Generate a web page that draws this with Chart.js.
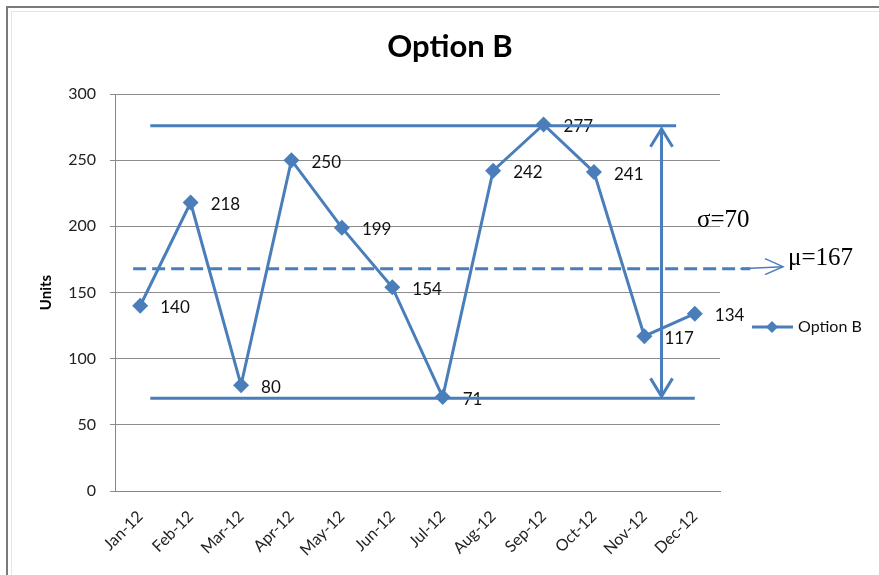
<!DOCTYPE html>
<html>
<head>
<meta charset="utf-8">
<script src="https://cdn.jsdelivr.net/npm/chart.js@4.4.0/dist/chart.umd.min.js"></script>
<style>
    html, body { margin: 0; padding: 0; background: #fff; }
    #wrap { width: 879px; height: 575px; position: relative; }
</style>
</head>
<body>
<div id="wrap"><canvas id="chart"></canvas></div>
<script>
// Datos
const months = ['Jan-12', 'Feb-12', 'Mar-12', 'Apr-12', 'May-12', 'Jun-12',
                'Jul-12', 'Aug-12', 'Sep-12', 'Oct-12', 'Nov-12', 'Dec-12'];
const units = [140, 218, 80, 250, 199, 154, 71, 242, 277, 241, 117, 134];
const yTicks = [0, 50, 100, 150, 200, 250, 300];

// Lineas dibujadas encima (nivel en unidades, tramo en indice de categoria)
const upperLevel = [276];
const upperSpan = [0.2, 10.63];
const lowerLevel = [70];
const lowerSpan = [0.2, 11.0];
const meanLevel = [168];
const meanSpan = [-0.14, 12.1];
const meanArrowTip = [12.75];
const sigmaArrowAt = [10.34];
const notes = ['σ=70', 'μ=167'];

const BLUE = '#4A7EBB';

function arrowHead(ctx, tipX, tipY, dirX, dirY, len, half) {
    const px = -dirY, py = dirX;
    ctx.beginPath();
    ctx.moveTo(tipX - dirX * len + px * half, tipY - dirY * len + py * half);
    ctx.lineTo(tipX, tipY);
    ctx.lineTo(tipX - dirX * len - px * half, tipY - dirY * len - py * half);
    ctx.stroke();
}

const decoPlugin = {
    id: 'deco',
    beforeDraw(chart) {
        const ctx = chart.ctx;
        ctx.save();
        // marco
        ctx.strokeStyle = '#7a7a7a';
        ctx.lineWidth = 2;
        ctx.beginPath();
        ctx.moveTo(7, 575);
        ctx.lineTo(7, 7);
        ctx.lineTo(879, 7);
        ctx.stroke();
        ctx.strokeStyle = '#e4e4e4';
        ctx.lineWidth = 1;
        ctx.beginPath();
        ctx.moveTo(11.5, 575);
        ctx.lineTo(11.5, 11.5);
        ctx.lineTo(879, 11.5);
        ctx.stroke();
        ctx.restore();
    },
    afterDatasetsDraw(chart) {
        const ctx = chart.ctx;
        const meta = chart.getDatasetMeta(0);
        ctx.save();
        ctx.font = '17px Lato, "Open Sans", sans-serif';
        ctx.fillStyle = '#111';
        ctx.textAlign = 'left';
        ctx.textBaseline = 'middle';
        meta.data.forEach((pt, i) => {
            ctx.fillText(String(units[i]), pt.x + 20, pt.y + 2);
        });
        ctx.restore();
    },
    afterDraw(chart) {
        const ctx = chart.ctx;
        const x = chart.scales.x, y = chart.scales.y;
        const area = chart.chartArea;
        ctx.save();

        // titulo
        ctx.fillStyle = '#000';
        ctx.font = 'bold 31px Lato, "Open Sans", sans-serif';
        ctx.textAlign = 'center';
        ctx.textBaseline = 'middle';
        ctx.fillText('Option B', 450, 47);

        // titulo eje Y
        ctx.save();
        ctx.translate(46, (area.top + area.bottom) / 2);
        ctx.rotate(-Math.PI / 2);
        ctx.font = 'bold 15px Lato, "Open Sans", sans-serif';
        ctx.fillText('Units', 0, 0);
        ctx.restore();

        ctx.strokeStyle = BLUE;
        ctx.lineCap = 'butt';
        ctx.lineWidth = 3;

        // lineas max / min
        const yu = y.getPixelForValue(upperLevel[0]);
        const yl = y.getPixelForValue(lowerLevel[0]);
        ctx.beginPath();
        ctx.moveTo(x.getPixelForValue(upperSpan[0]), yu);
        ctx.lineTo(x.getPixelForValue(upperSpan[1]), yu);
        ctx.moveTo(x.getPixelForValue(lowerSpan[0]), yl);
        ctx.lineTo(x.getPixelForValue(lowerSpan[1]), yl);
        ctx.stroke();

        // linea media discontinua
        const ym = y.getPixelForValue(meanLevel[0]);
        ctx.setLineDash([13, 6]);
        ctx.beginPath();
        ctx.moveTo(x.getPixelForValue(meanSpan[0]), ym);
        ctx.lineTo(x.getPixelForValue(meanSpan[1]), ym);
        ctx.stroke();
        ctx.setLineDash([]);

        // flecha fina hacia la etiqueta de la media
        const tipX = x.getPixelForValue(meanArrowTip[0]);
        ctx.lineWidth = 1.5;
        ctx.beginPath();
        ctx.moveTo(x.getPixelForValue(meanSpan[1]) - 10, ym);
        ctx.lineTo(tipX, ym - 2);
        ctx.stroke();
        arrowHead(ctx, tipX, ym - 2, 1, 0, 18, 8);

        // flecha vertical doble
        const xa = x.getPixelForValue(sigmaArrowAt[0]);
        ctx.lineWidth = 3;
        ctx.beginPath();
        ctx.moveTo(xa, yu + 3);
        ctx.lineTo(xa, yl - 2);
        ctx.stroke();
        arrowHead(ctx, xa, yu + 3, 0, -1, 18, 11);
        arrowHead(ctx, xa, yl - 2, 0, 1, 18, 11);

        // notas
        ctx.fillStyle = '#000';
        ctx.textAlign = 'left';
        ctx.textBaseline = 'alphabetic';
        ctx.font = '25px "Liberation Serif", "DejaVu Serif", serif';
        ctx.fillText(notes[0], 697, 227);
        ctx.fillText(notes[1], 788, 265);

        // leyenda
        const ly = 327;
        ctx.strokeStyle = BLUE;
        ctx.lineWidth = 3;
        ctx.beginPath();
        ctx.moveTo(752, ly);
        ctx.lineTo(793, ly);
        ctx.stroke();
        ctx.fillStyle = BLUE;
        ctx.beginPath();
        ctx.moveTo(772, ly - 6);
        ctx.lineTo(778, ly);
        ctx.lineTo(772, ly + 6);
        ctx.lineTo(766, ly);
        ctx.closePath();
        ctx.fill();
        ctx.fillStyle = '#111';
        ctx.font = '16px Lato, "Open Sans", sans-serif';
        ctx.textBaseline = 'middle';
        ctx.fillText('Option B', 798, ly);

        ctx.restore();
    }
};

new Chart(document.getElementById('chart'), {
    type: 'line',
    data: {
        labels: months,
        datasets: [{
            label: 'Option B',
            data: units,
            borderColor: BLUE,
            backgroundColor: BLUE,
            borderWidth: 3,
            tension: 0,
            pointStyle: 'rectRot',
            pointRadius: 8,
            pointBackgroundColor: BLUE,
            pointBorderColor: BLUE,
            pointBorderWidth: 0
        }]
    },
    options: {
        responsive: true,
        maintainAspectRatio: false,
        animation: false,
        layout: { padding: { top: 94, right: 159, bottom: 0, left: 0 } },
        plugins: {
            legend: { display: false },
            title: { display: false },
            tooltip: { enabled: false }
        },
        scales: {
            x: {
                offset: true,
                grid: { display: false },
                border: { display: true, color: '#868686', width: 1 },
                ticks: {
                    font: { size: 16, family: 'Lato, "Open Sans", sans-serif' },
                    color: '#222',
                    minRotation: 45,
                    maxRotation: 45,
                    padding: 8,
                    autoSkip: false
                },
                afterFit(scale) { scale.height = 84; }
            },
            y: {
                min: 0,
                max: 300,
                afterBuildTicks(scale) { scale.ticks = yTicks.map(v => ({ value: v })); },
                grid: { color: '#8c8c8c', lineWidth: 1, tickLength: 5, drawTicks: true },
                border: { display: true, color: '#868686', width: 1 },
                ticks: {
                    font: { size: 16, family: 'Lato, "Open Sans", sans-serif' },
                    color: '#222',
                    padding: 14
                },
                afterFit(scale) { scale.width = 115; }
            }
        }
    },
    plugins: [decoPlugin]
});
</script>
</body>
</html>
